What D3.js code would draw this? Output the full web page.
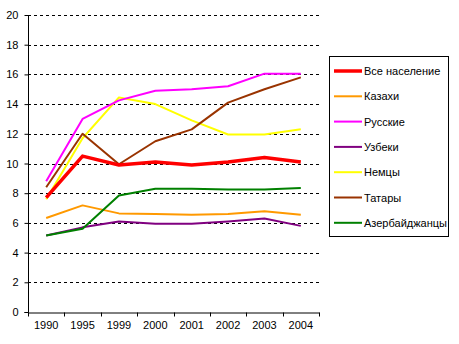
<!DOCTYPE html>
<html><head><meta charset="utf-8">
<script src="https://cdn.jsdelivr.net/npm/d3@7"></script>
<style>body{margin:0;background:#fff}svg{display:block;font-family:"Liberation Sans",Arial,sans-serif}</style>
</head><body><svg id="c" width="459" height="344"></svg>
<script>
const years = ["1990","1995","1999","2000","2001","2002","2003","2004"];
const seriesNames = ["Все население","Казахи","Русские","Узбеки","Немцы","Татары","Азербайджанцы"];
const colors = ["#FF0000","#FF9900","#FF00FF","#800080","#FFFF00","#993300","#008000"];
const vAll   = [7.7, 10.5, 9.9, 10.1, 9.9, 10.1, 10.4, 10.1];
const vKaz   = [6.33, 7.18, 6.64, 6.6, 6.55, 6.6, 6.78, 6.55];
const vRus   = [8.8, 13.0, 14.25, 14.9, 15.0, 15.2, 16.05, 16.05];
const vUzb   = [5.15, 5.7, 6.1, 5.95, 5.95, 6.1, 6.3, 5.8];
const vGer   = [7.6, 11.7, 14.45, 14.0, 12.9, 11.95, 11.95, 12.3];
const vTat   = [8.4, 12.0, 9.95, 11.5, 12.3, 14.1, 15.0, 15.8];
const vAze   = [5.15, 5.6, 7.85, 8.3, 8.3, 8.25, 8.25, 8.35];
const seriesValues = [vAll, vKaz, vRus, vUzb, vGer, vTat, vAze];
const yTicks = [0,2,4,6,8,10,12,14,16,18,20];

const svg = d3.select("#c");
const L = 28, R = 319, T = 15, B = 312;
const x = d3.scaleBand().domain(years).range([L, R]);
const y = d3.scaleLinear().domain([0, 20]).range([B, T]);

// gridlines
svg.append("g").selectAll("line").data(yTicks.filter(d => d > 0)).join("line")
  .attr("x1", L).attr("x2", R).attr("y1", d => Math.round(y(d)) + 0.5).attr("y2", d => Math.round(y(d)) + 0.5)
  .attr("stroke", "#000").attr("stroke-dasharray", "3,3");

// y axis
const ya = svg.append("g").attr("transform", `translate(${L + 0.5},0)`)
  .call(d3.axisLeft(y).tickValues(yTicks).tickSize(4).tickPadding(6));
ya.select(".domain").attr("d", `M-4,${B + 0.5}H0V${T}`).attr("stroke", "#000");
ya.selectAll(".tick line").attr("stroke", "#000");
ya.selectAll("text").attr("font-size", 11).attr("fill", "#000").attr("font-family", "Liberation Sans, Arial, sans-serif");

// x axis
const xa = svg.append("g").attr("transform", `translate(0,${B + 0.5})`)
  .call(d3.axisBottom(x).tickSize(0).tickPadding(9));
xa.select(".domain").attr("stroke", "#000");
xa.selectAll("text").attr("font-size", 11).attr("fill", "#000").attr("font-family", "Liberation Sans, Arial, sans-serif");
const bounds = years.map(d => x(d)).concat([R]);
xa.append("g").selectAll("line").data(bounds).join("line")
  .attr("x1", d => Math.round(d) + 0.5).attr("x2", d => Math.round(d) + 0.5).attr("y1", 0).attr("y2", 4).attr("stroke", "#000");

// lines
const line = d3.line().x((d, i) => x(years[i]) + x.bandwidth() / 2).y(d => y(d));
const order = [1,3,6,4,5,2,0];
order.forEach(k => {
  svg.append("path").datum(seriesValues[k]).attr("d", line).attr("fill", "none")
    .attr("stroke", colors[k]).attr("stroke-width", k === 0 ? 3.5 : 2).attr("stroke-linejoin", "round");
});

// legend
const lg = svg.append("g");
lg.append("rect").attr("x", 329.5).attr("y", 56.5).attr("width", 119).attr("height", 180)
  .attr("fill", "#fff").attr("stroke", "#000");
seriesNames.forEach((n, i) => {
  const yy = 71 + i * 25.3;
  lg.append("line").attr("x1", 334).attr("x2", 362).attr("y1", yy).attr("y2", yy)
    .attr("stroke", colors[i]).attr("stroke-width", i === 0 ? 3.5 : 2);
  lg.append("text").attr("x", 364).attr("y", yy + 4).attr("font-size", 11).attr("fill", "#000").text(n);
});
</script></body></html>
